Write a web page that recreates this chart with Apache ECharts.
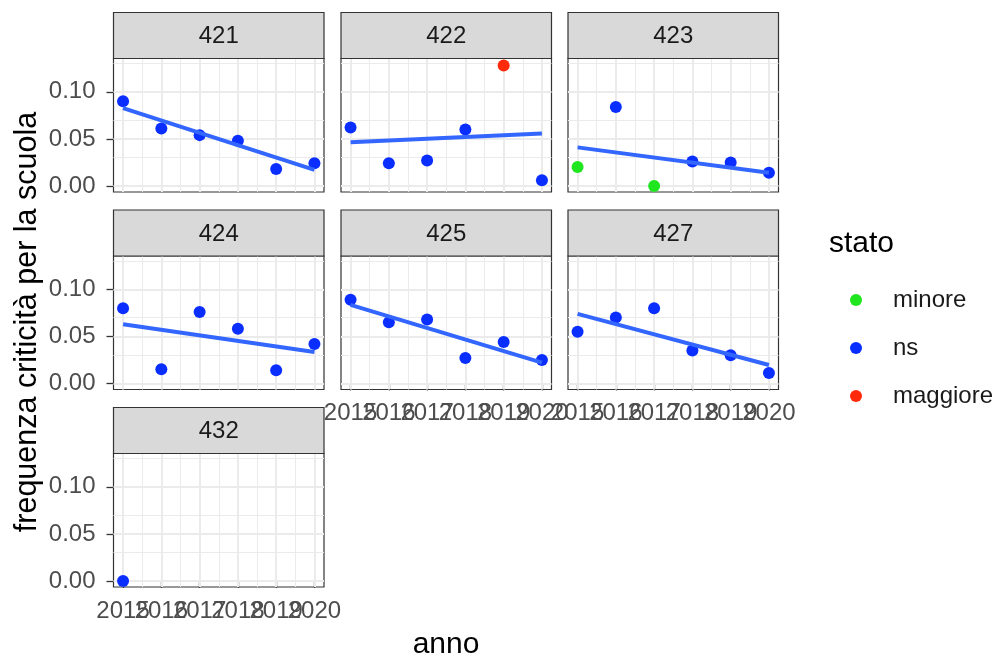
<!DOCTYPE html>
<html>
<head>
<meta charset="utf-8">
<script src="https://cdn.jsdelivr.net/npm/echarts@6/dist/echarts.min.js"></script>
<style>html,body{margin:0;padding:0;background:#fff}#c{width:998px;height:657px}</style>
</head>
<body>
<div id="c"></div>
<script>
// ---- data ----
const panels = ['421', '422', '423', '424', '425', '427', '432'];
const years = [2015, 2016, 2017, 2018, 2019, 2020];
const v421 = [0.090, 0.061, 0.054, 0.048, 0.018, 0.024];
const v422 = [0.062, 0.024, 0.027, 0.060, 0.128, 0.006];
const v423 = [0.020, 0.084, 0.000, 0.026, 0.025, 0.014];
const v424 = [0.080, 0.015, 0.076, 0.058, 0.014, 0.042];
const v425 = [0.089, 0.065, 0.068, 0.027, 0.044, 0.025];
const v427 = [0.055, 0.070, 0.080, 0.035, 0.030, 0.011];
const v432 = [0.000, null, null, null, null, null];
const s421 = ['ns', 'ns', 'ns', 'ns', 'ns', 'ns'];
const s422 = ['ns', 'ns', 'ns', 'ns', 'maggiore', 'ns'];
const s423 = ['minore', 'ns', 'minore', 'ns', 'ns', 'ns'];
const s424 = ['ns', 'ns', 'ns', 'ns', 'ns', 'ns'];
const s425 = ['ns', 'ns', 'ns', 'ns', 'ns', 'ns'];
const s427 = ['ns', 'ns', 'ns', 'ns', 'ns', 'ns'];
const s432 = ['ns', null, null, null, null, null];
// fitted lm line values at 2015 and 2020
const fit421 = [0.0826, 0.0170];
const fit422 = [0.0465, 0.0558];
const fit423 = [0.0410, 0.0140];
const fit424 = [0.0630, 0.0333];
const fit425 = [0.0835, 0.0221];
const fit427 = [0.0740, 0.0196];
const fit432 = null;
const statoLevels = ['minore', 'ns', 'maggiore'];
const xTicks = [2015, 2016, 2017, 2018, 2019, 2020];
const xLabelsOdd = [2015, 2017, 2019];
const xLabelsEven = [2016, 2018, 2020];
const xMinor = [2015.5, 2016.5, 2017.5, 2018.5, 2019.5];
const yTicks = [0, 0.05, 0.10];
const yMinor = [0.025, 0.075, 0.125];

const values = [v421, v422, v423, v424, v425, v427, v432];
const statos = [s421, s422, s423, s424, s425, s427, s432];
const fits = [fit421, fit422, fit423, fit424, fit425, fit427, fit432];

// ---- style / layout ----
const FONT = 'Liberation Sans, Arial, sans-serif';
const colors = { minore: '#1fe61f', ns: '#0a2eff', maggiore: '#ff2a0a' };
const colLeft = [113.5, 341, 568];
const panelW = 210.5;
const rowTop = [12.5, 210, 407.5];
const stripH = 46;
const plotH = 133.5;
const bottomRowOfCol = [2, 1, 1];

const grids = [], xAxes = [], extraX = [], yAxes = [], series = [], graphics = [];

function gridLine(axisKey, v, major) {
  const o = { lineStyle: { color: '#EBEBEB', width: major ? 2 : 1, type: 'solid' } };
  o[axisKey] = v;
  return o;
}

panels.forEach((p, i) => {
  const col = i % 3, row = Math.floor(i / 3);
  const left = colLeft[col], top = rowTop[row] + stripH;
  grids.push({ left: left, top: top, width: panelW, height: plotH, show: true,
    borderColor: '#333333', borderWidth: 1.2, backgroundColor: '#ffffff', containLabel: false });
  const showX = bottomRowOfCol[col] === row;
  const showY = col === 0;
  const lbl = (vals) => ({ show: showX, customValues: vals, margin: 12, fontSize: 24, color: '#4D4D4D',
    fontFamily: FONT, hideOverlap: false, showMinLabel: true, showMaxLabel: true,
    formatter: v => String(Math.round(v)) });
  xAxes.push({ type: 'value', gridIndex: i, position: 'bottom', min: 2014.75, max: 2020.25,
    axisLine: { show: false }, splitLine: { show: false },
    axisTick: { show: showX, length: 7, customValues: xTicks, lineStyle: { color: '#333333', width: 1.3 } },
    axisLabel: lbl(xLabelsOdd) });
  extraX.push({ type: 'value', gridIndex: i, position: 'bottom', offset: 0, min: 2014.75, max: 2020.25,
    axisLine: { show: false }, splitLine: { show: false }, axisTick: { show: false },
    axisLabel: lbl(xLabelsEven) });
  yAxes.push({ type: 'value', gridIndex: i, min: -0.00645, max: 0.13545,
    axisLine: { show: false }, splitLine: { show: false },
    axisTick: { show: showY, length: 7, customValues: yTicks, lineStyle: { color: '#333333', width: 1.3 } },
    axisLabel: { show: showY, customValues: yTicks, margin: 18, fontSize: 24, color: '#4D4D4D',
      fontFamily: FONT, showMinLabel: true, showMaxLabel: true, formatter: v => v.toFixed(2) } });
  // grid lines
  const ml = [];
  xMinor.forEach(v => ml.push(gridLine('xAxis', v, false)));
  yMinor.forEach(v => ml.push(gridLine('yAxis', v, false)));
  xTicks.forEach(v => ml.push(gridLine('xAxis', v, true)));
  yTicks.forEach(v => ml.push(gridLine('yAxis', v, true)));
  series.push({ type: 'line', xAxisIndex: i, yAxisIndex: i, data: [], z: 1, silent: true,
    markLine: { silent: true, z: 1, symbol: ['none', 'none'], label: { show: false }, animation: false,
      emphasis: { disabled: true }, data: ml } });
  // points
  statoLevels.forEach(st => {
    const d = [];
    years.forEach((y, k) => { if (statos[i][k] === st && values[i][k] !== null) d.push([y, values[i][k]]); });
    series.push({ type: 'scatter', name: st, xAxisIndex: i, yAxisIndex: i, data: d, symbolSize: 12,
      itemStyle: { color: colors[st], opacity: 1 }, z: 3, animation: false });
  });
  // lm line
  if (fits[i]) {
    series.push({ type: 'line', xAxisIndex: i, yAxisIndex: i,
      data: [[years[0], fits[i][0]], [years[years.length - 1], fits[i][1]]],
      showSymbol: false, symbol: 'none', lineStyle: { color: '#3366FF', width: 4 }, z: 4, animation: false, silent: true });
  }
  // strip
  graphics.push({ type: 'rect', shape: { x: left, y: rowTop[row], width: panelW, height: stripH },
    style: { fill: '#D9D9D9', stroke: '#333333', lineWidth: 1.2 }, z: 10 });
  graphics.push({ type: 'text', x: left + panelW / 2, y: rowTop[row] + stripH / 2 + 1,
    style: { text: p, font: '24px ' + FONT, fill: '#1A1A1A', align: 'center', verticalAlign: 'middle' }, z: 11 });
});

graphics.push({ type: 'text', x: 446, y: 645,
  style: { text: 'anno', font: '30px ' + FONT, fill: '#000000', align: 'center', verticalAlign: 'middle' } });
graphics.push({ type: 'text', x: 28, y: 322, rotation: Math.PI / 2,
  style: { text: 'frequenza criticità per la scuola', font: '30.5px ' + FONT, fill: '#000000', align: 'center', verticalAlign: 'middle' } });
graphics.push({ type: 'text', x: 829, y: 244,
  style: { text: 'stato', font: '30px ' + FONT, fill: '#000000', align: 'left', verticalAlign: 'middle' } });

const chart = echarts.init(document.getElementById('c'), null, { renderer: 'canvas' });
chart.setOption({
  animation: false,
  backgroundColor: '#ffffff',
  grid: grids,
  xAxis: xAxes.concat(extraX),
  yAxis: yAxes,
  legend: { data: statoLevels.map(n => ({ name: n, icon: 'circle' })), orient: 'vertical', left: 845, top: 283,
    itemWidth: 12, itemHeight: 12, itemGap: 24, selectedMode: false,
    textStyle: { fontSize: 24, color: '#1A1A1A', fontFamily: FONT, padding: [0, 0, 0, 26] } },
  series: series,
  graphic: graphics
});
</script>
</body>
</html>
